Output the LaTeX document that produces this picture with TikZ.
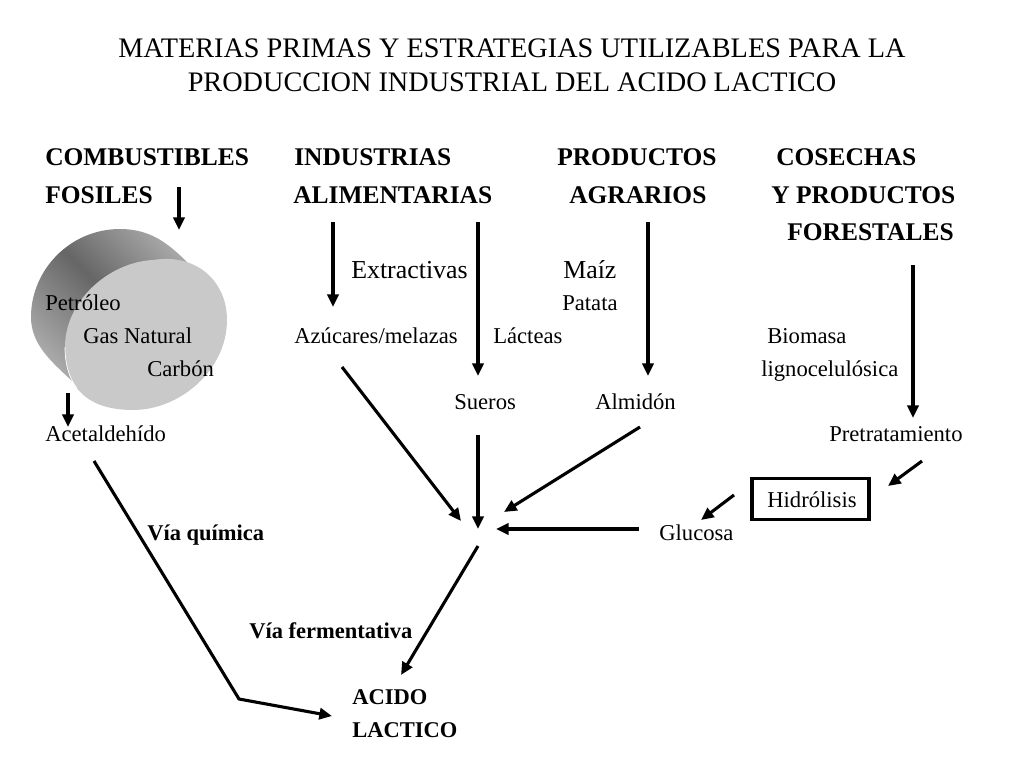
\documentclass[tikz,border=0pt]{standalone}
\usepackage{fontspec}
\setmainfont{Liberation Serif}
\usetikzlibrary{arrows.meta, calc}
\pgfdeclareverticalshading{cilindro}{100bp}{color(0bp)=(black!18); color(14bp)=(black!22); color(50bp)=(black!60); color(86bp)=(black!24); color(100bp)=(black!20)}
\tikzset{
  titulo/.style={font=\fontsize{20.1}{24}\selectfont, anchor=base},
  cabecera/.style={font=\bfseries\fontsize{18.1}{20}\selectfont, anchor=base west, inner sep=0},
  grande/.style={font=\fontsize{18.4}{20}\selectfont, anchor=base west, inner sep=0},
  texto/.style={font=\fontsize{16.1}{18}\selectfont, anchor=base west, inner sep=0},
  negrita/.style={font=\bfseries\fontsize{16}{18}\selectfont, anchor=base west, inner sep=0},
  caja/.style={draw, line width=2.3pt, minimum width=117*.025cm, minimum height=41*.025cm, inner sep=0},
  flecha/.style={-{Triangle[length=9pt,width=8pt]}, line width=2.2pt}
}
\begin{document}
\begin{tikzpicture}[x=.025cm,y=-.025cm]
\useasboundingbox (0,0) rectangle (1024,768);
% cylinder
\shade[shading=cilindro, shading angle=135]
  (100,380) -- (72,381) .. controls (52,362) and (31,345) .. (31,317)
  .. controls (31,270) and (70,229) .. (120,229)
  .. controls (150,229) and (168,243) .. (188,263) -- (205,300) -- cycle;
\fill[black!21] (153,260) .. controls (195,253) and (227,280) .. (227,320)
  .. controls (227,370) and (180,410) .. (133,410)
  .. controls (90,410) and (65,390) .. (65,347)
  .. controls (65,300) and (110,262) .. (153,260) -- cycle;
\draw[white, line width=.5pt] (76.6,387.7) .. controls (69,377.7) and (65,364.2) .. (65,347);
% title
\node[titulo] (titulo1) at (512,58) {MATERIAS PRIMAS Y ESTRATEGIAS UTILIZABLES PARA LA};
\node[titulo] (titulo2) at (512,92) {PRODUCCION INDUSTRIAL DEL ACIDO LACTICO};
% headings
\node[cabecera] (combustibles) at (45,166) {COMBUSTIBLES};
\node[cabecera] (fosiles) at (45,203) {FOSILES};
\node[cabecera] (industrias) at (294,166) {INDUSTRIAS};
\node[cabecera] (alimentarias) at (293,203) {ALIMENTARIAS};
\node[cabecera] (productos) at (557,166) {PRODUCTOS};
\node[cabecera] (agrarios) at (569,203) {AGRARIOS};
\node[cabecera] (cosechas) at (776,166) {COSECHAS};
\node[cabecera] (yproductos) at (771,203) {Y PRODUCTOS};
\node[cabecera] (forestales) at (787,240) {FORESTALES};
% body text
\node[grande] (extractivas) at (351,278) {Extractivas};
\node[grande] (maiz) at (563,278) {Maíz};
\node[texto] (petroleo) at (45,310) {Petróleo};
\node[texto] (patata) at (562,310) {Patata};
\node[texto] (gas) at (83,343) {Gas Natural};
\node[texto] (azucares) at (294,343) {Azúcares/melazas};
\node[texto] (lacteas) at (493,343) {Lácteas};
\node[texto] (biomasa) at (767,343) {Biomasa};
\node[texto] (carbon) at (147,376) {Carbón};
\node[texto] (ligno) at (761,376) {lignocelulósica};
\node[texto] (sueros) at (454,409) {Sueros};
\node[texto] (almidon) at (595,409) {Almidón};
\node[texto] (acetal) at (45,441) {Acetaldehído};
\node[texto] (pretrat) at (829,441) {Pretratamiento};
\node[caja] (hidrolisis) at (810.5,499) {};
\node[texto] (hidrotxt) at (767,507) {Hidrólisis};
\node[texto] (glucosa) at (659,540) {Glucosa};
\node[negrita] (quimica) at (147,540) {Vía química};
\node[negrita] (ferment) at (249,638) {Vía fermentativa};
\node[negrita] (acido) at (352,704) {ACIDO};
\node[negrita] (lactico) at (352,737) {LACTICO};
% arrow ends
\foreach \name/\x/\y in {fa/179/187, fb/179/230, aa/333/222, ab/333/307, ba/478/222, bb/478/376,
  ca/648/222, cb/648/376, da/913/265, db/913/418, ea/68/393, eb/68/427, ga/342/367, gb/461/521,
  ha/478/435, hb/478/529, ia/640/427, ib/504/512, ja/639/529, jb/496/529, ka/922/461, kb/888/486,
  la/734/495, lb/701/520, ma/478/546, mb/401/675, na/94/461, nb/239/699, nc/332/716}
  \coordinate (\name) at (\x,\y);
\draw[flecha] (fa) -- (fb);
\draw[flecha] (aa) -- (ab);
\draw[flecha] (ba) -- (bb);
\draw[flecha] (ca) -- (cb);
\draw[flecha] (da) -- (db);
\draw[flecha] (ea) -- (eb);
\draw[flecha] (ga) -- (gb);
\draw[flecha] (ha) -- (hb);
\draw[flecha] (ia) -- (ib);
\draw[flecha] (ja) -- (jb);
\draw[flecha] (ka) -- (kb);
\draw[flecha] (la) -- (lb);
\draw[flecha] (ma) -- (mb);
\draw[flecha] (na) -- (nb) -- (nc);
\end{tikzpicture}
\end{document}
